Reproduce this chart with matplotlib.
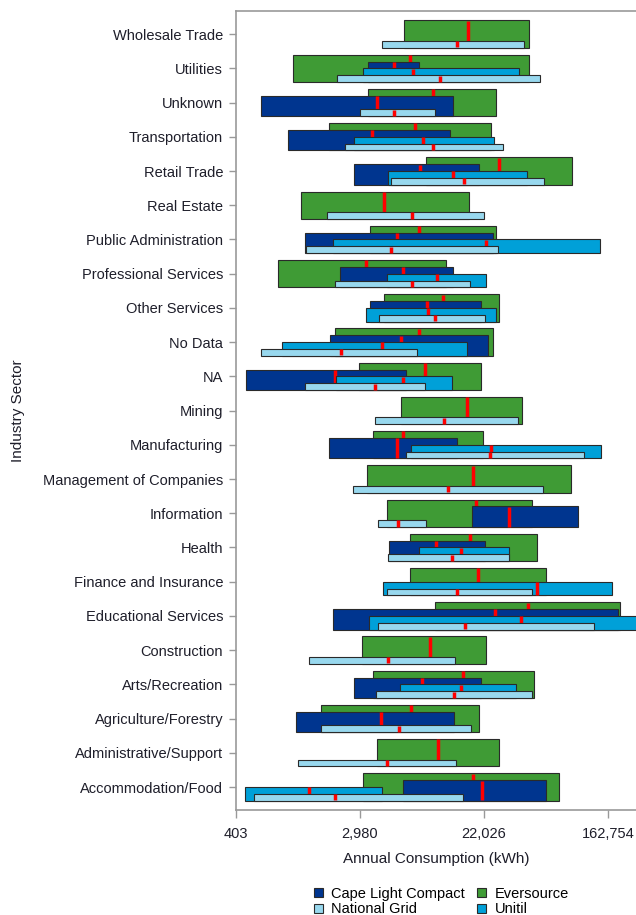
import numpy as np
import matplotlib
matplotlib.use("Agg")
import matplotlib.pyplot as plt
from matplotlib.patches import Patch

plt.rcParams['font.family'] = ['Liberation Sans', 'DejaVu Sans']

# Industry sectors, listed top to bottom
sectors = [
    "Wholesale Trade", "Utilities", "Unknown", "Transportation", "Retail Trade",
    "Real Estate", "Public Administration", "Professional Services",
    "Other Services", "No Data", "NA", "Mining", "Manufacturing",
    "Management of Companies", "Information", "Health", "Finance and Insurance",
    "Educational Services", "Construction", "Arts/Recreation",
    "Agriculture/Forestry", "Administrative/Support", "Accommodation/Food",
]

# Natural log of annual consumption (kWh): lower quartile, median, upper quartile
eversource_q1 = [8.71, 6.92, 8.13, 7.50, 9.07, 7.05, 8.17, 6.68, 8.39, 7.60, 7.99, 8.66,
                 8.21, 8.11, 8.44, 8.81, 8.81, 9.21, 8.04, 8.21, 7.37, 8.28, 8.05]
eversource_med = [9.74, 8.81, 9.18, 8.89, 10.24, 8.39, 8.96, 8.10, 9.34, 8.96, 9.05, 9.73,
                  8.70, 9.83, 9.87, 9.78, 9.91, 10.71, 9.13, 9.67, 8.83, 9.26, 9.83]
eversource_q3 = [10.72, 10.73, 10.19, 10.12, 11.42, 9.76, 10.20, 9.39, 10.24, 10.14, 9.96, 10.61,
                 9.99, 11.40, 10.77, 10.86, 11.00, 12.19, 10.04, 10.81, 9.92, 10.25, 11.21]

cape_q1 = [None, 8.13, 6.40, 6.85, 7.90, None, 7.12, 7.68, 8.16, 7.52, 6.17, None,
           7.51, None, 9.81, 8.47, None, 7.57, None, 7.90, 6.97, None, 8.70]
cape_med = [None, 8.55, 8.28, 8.20, 8.97, None, 8.60, 8.70, 9.08, 8.67, 7.60, None,
            8.60, None, 10.41, 9.23, None, 10.18, None, 9.00, 8.34, None, 9.97]
cape_q3 = [None, 8.95, 9.50, 9.46, 9.92, None, 10.15, 9.50, 9.96, 10.07, 8.75, None,
           9.57, None, 11.51, 10.01, None, 12.16, None, 9.96, 9.52, None, 11.00]

unitil_q1 = [None, 8.05, None, 7.90, 8.46, None, 7.56, 8.44, 8.10, 6.75, 7.62, None,
             8.83, None, None, 8.96, 8.37, 8.14, None, 8.65, None, None, 6.15]
unitil_med = [None, 8.86, None, 9.02, 9.50, None, 10.04, 9.24, 9.10, 8.36, 8.70, None,
              10.12, None, None, 9.63, 10.86, 10.59, None, 9.63, None, None, 7.18]
unitil_q3 = [None, 10.56, None, 10.16, 10.70, None, 11.87, 10.04, 10.19, 9.73, 9.49, None,
             11.89, None, None, 10.41, 12.06, 12.60, None, 10.51, None, None, 8.36]

natgrid_q1 = [8.36, 7.63, 8.00, 7.76, 8.51, 7.47, 7.13, 7.60, 8.31, 6.41, 7.11, 8.24,
              8.75, 7.89, 8.29, 8.46, 8.43, 8.29, 7.18, 8.26, 7.37, 7.01, 6.29]
natgrid_med = [9.56, 9.29, 8.55, 9.18, 9.68, 8.84, 8.50, 8.84, 9.21, 7.70, 8.25, 9.36,
               10.10, 9.42, 8.62, 9.48, 9.56, 9.70, 8.45, 9.52, 8.63, 8.44, 7.60]
natgrid_q3 = [10.65, 10.91, 9.21, 10.31, 10.96, 10.00, 10.23, 9.78, 10.02, 8.92, 9.05, 10.55,
              11.61, 10.95, 9.07, 10.40, 10.78, 11.77, 9.54, 10.77, 9.79, 9.55, 9.66]

tick_logs = [6, 8, 10, 12]

# Series drawn back to front; boxes share a common baseline with decreasing heights
series = [
    ("Eversource", "#3F9B35", 0.8, eversource_q1, eversource_med, eversource_q3),
    ("Cape Light Compact", "#00358F", 0.6, cape_q1, cape_med, cape_q3),
    ("Unitil", "#00A0D8", 0.4, unitil_q1, unitil_med, unitil_q3),
    ("National Grid", "#98D8EE", 0.2, natgrid_q1, natgrid_med, natgrid_q3),
]

fig = plt.figure(figsize=(6.36, 9.15), dpi=100)
ax = fig.add_axes([0.3706, 0.1148, 0.6294, 0.8737])

ypos = np.arange(len(sectors))
base = 0.4
for z, (name, color, h, q1, med, q3) in enumerate(series):
    for i, (a, m, b) in enumerate(zip(q1, med, q3)):
        if a is None:
            continue
        bottom = ypos[i] + base
        top = bottom - h
        ax.barh(bottom - h / 2, b - a, left=a, height=h, color=color,
                edgecolor="#2a2a2a", linewidth=0.8, zorder=2 + z * 2)
        ax.vlines(m, top + 0.01, bottom - 0.01, colors="#FF0000",
                  linewidth=2.5, zorder=3 + z * 2)

ax.set_xlim(6, 12.45)
ax.set_ylim(22.67, -0.69)
ax.set_yticks(ypos)
ax.set_yticklabels(sectors, fontsize=10.5, color="#1e1e2a")
ax.set_xticks(tick_logs)
ax.set_xticklabels([f"{int(np.exp(t)):,}" for t in tick_logs], fontsize=10.5, color="#1e1e2a")
ax.tick_params(axis="y", length=5, width=1, color="#999999", pad=4)
ax.tick_params(axis="x", length=6, width=1, color="#999999", pad=6)

for side in ("left", "bottom", "top"):
    ax.spines[side].set_color("#999999")
    ax.spines[side].set_linewidth(1.2)
ax.spines["right"].set_visible(False)

ax.set_xlabel("Annual Consumption (kWh)", fontsize=11, color="#1e1e2a", labelpad=8)
ax.set_ylabel("Industry Sector", fontsize=11, color="#1e1e2a", labelpad=8)
ax.yaxis.set_label_coords(-0.527, 0.5)

colors = {name: color for name, color, *_ in series}
order = ["Cape Light Compact", "National Grid", "Eversource", "Unitil"]
handles = [Patch(facecolor=colors[n], edgecolor="#2a2a2a", linewidth=0.8, label=n) for n in order]
fig.legend(handles=handles, ncol=2, loc="upper left", bbox_to_anchor=(0.493, 0.031),
           frameon=False, fontsize=10.5, handlelength=0.62, handleheight=0.62,
           handletextpad=0.6, columnspacing=0.8, labelspacing=0.12, borderpad=0,
           borderaxespad=0)

fig.savefig("out.png", dpi=100)
